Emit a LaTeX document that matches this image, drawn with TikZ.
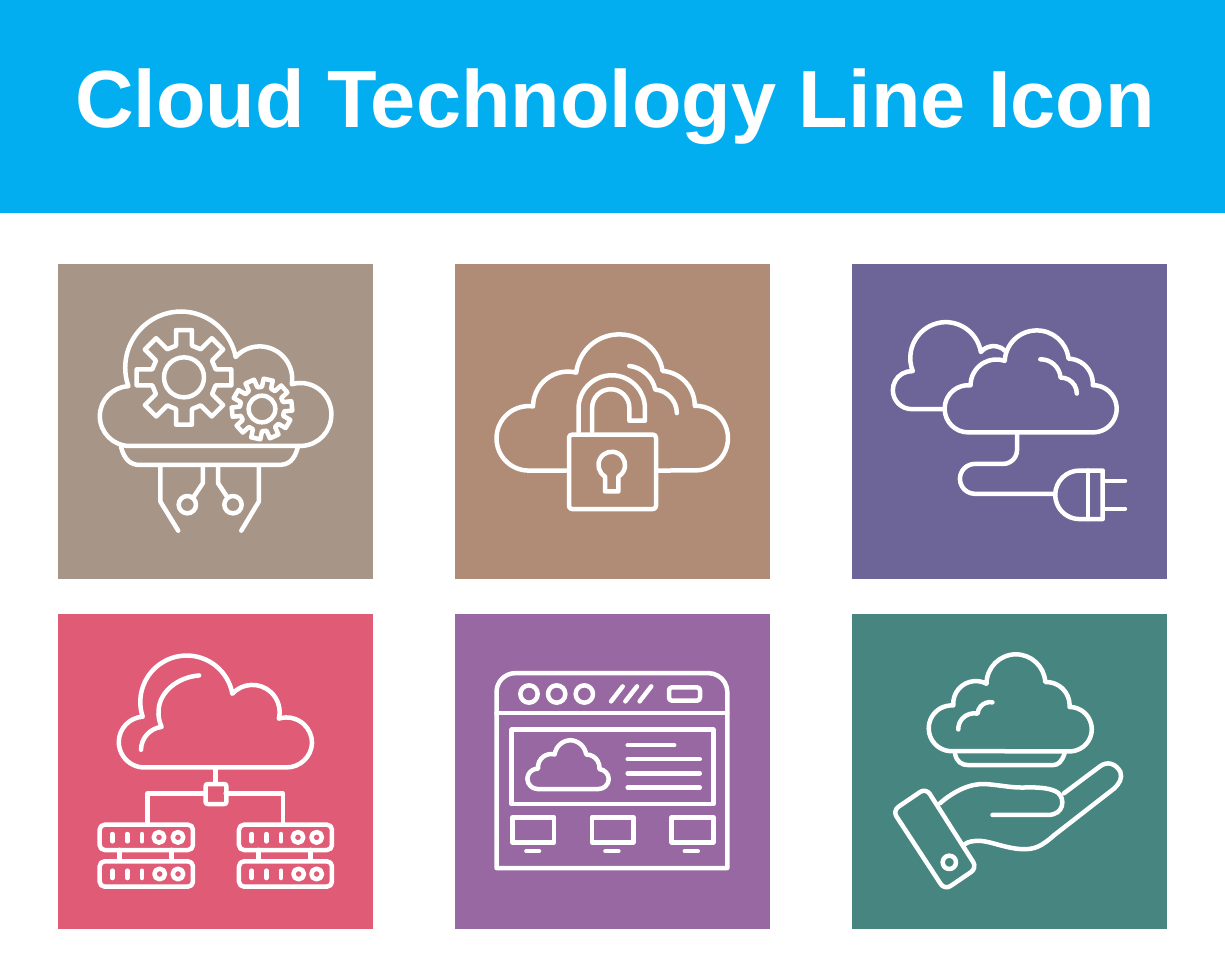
\documentclass[tikz,border=0pt]{standalone}
\usepackage{fontspec}
\setmainfont{Liberation Sans}
\usetikzlibrary{svg.path}
\definecolor{hdr}{HTML}{03AEF0}
\definecolor{pa}{HTML}{A79688}
\definecolor{pb}{HTML}{B08C77}
\definecolor{pc}{HTML}{6D6598}
\definecolor{pd}{HTML}{DF5B76}
\definecolor{pe}{HTML}{9768A1}
\definecolor{pf}{HTML}{478580}
\tikzset{
  ln/.style={draw=white,line width=4.5bp,line cap=round,line join=round},
  panelbox/.style={fill=#1,draw=none},
  iconat/.style={shift={#1},yscale=-1,scale=0.33333},
  rr/.style={rounded corners=#1}
}
\newcommand\gearicon[7]{%
  \begin{scope}[shift={(#1,#2)}]
    \pgfmathsetmacro\gofft{atan(#5/#4)}
    \pgfmathsetmacro\goffr{atan(#5/#3)}
    \pgfmathsetmacro\grt{veclen(#4,#5)}
    \pgfmathsetmacro\grr{veclen(#3,#5)}
    \pgfmathsetmacro\gstep{360/#6}
    \draw[ln] ({#7-\goffr}:\grr)
      \foreach \gk in {1,...,#6}{
        -- ({#7+(\gk-1)*\gstep-\gofft}:\grt)
        -- ({#7+(\gk-1)*\gstep+\gofft}:\grt)
        -- ({#7+(\gk-1)*\gstep+\goffr}:\grr)
        -- ({#7+\gk*\gstep-\goffr}:\grr)
      } -- cycle;
  \end{scope}}
\newcommand\serverrow[6]{% x0 x1 y pills/circles
  \draw[ln,rr=5bp] (#1,#3-38) rectangle (#2,#3+38);
  \foreach \px in {#4}{\draw[ln] (\px,#3-10) -- (\px,#3+12);}
  \foreach \px in {#5,#6}{\draw[ln] (\px,#3) circle[radius=16];}
}
\begin{document}
\begin{tikzpicture}[x=1bp,y=1bp]
\useasboundingbox (0,0) rectangle (1225,-980);
\fill[white] (0,0) rectangle (1225,-980);
\fill[hdr] (0,0) rectangle (1225,-213);
\node[text=white,anchor=base,inner sep=0pt,font=\fontsize{81.1bp}{90bp}\selectfont\bfseries] (title) at (615,-127) {Cloud Technology Line Icon};
\fill[panelbox=pa] (58,-264) rectangle (373,-579);
\fill[panelbox=pb] (455,-264) rectangle (770,-579);
\fill[panelbox=pc] (852,-264) rectangle (1167,-579);
\fill[panelbox=pd] (58,-614) rectangle (373,-929);
\fill[panelbox=pe] (455,-614) rectangle (770,-929);
\fill[panelbox=pf] (852,-614) rectangle (1167,-929);

% icon 1: cloud with gears
\begin{scope}[iconat={(58,-264)}]
\draw[ln] svg {M 215 548 A 90 90 0 0 1 126 458 A 90 90 0 0 1 212 368 A 169 169 0 0 1 372 143 A 169 169 0 0 1 535 280 A 98 98 0 0 1 704 362 A 93 93 0 0 1 823 455 A 93 93 0 0 1 735 548 Z};
\draw[ln] svg {M 190 552 C 200 590 220 605 245 605 L 665 605 C 695 605 712 590 722 552};
\draw[ln] svg {M 308 612 L 308 715 L 362 803};
\draw[ln] svg {M 605 612 L 605 715 L 552 803};
\draw[ln] svg {M 436 612 L 436 660 L 408 702};
\draw[ln] svg {M 482 612 L 482 660 L 510 702};
\draw[ln] (388,722) circle[radius=26];
\draw[ln] (525,722) circle[radius=26];
\gearicon{378}{340}{95}{142}{24}{8}{0}
\draw[ln] (378,340) circle[radius=60];
\gearicon{612}{435}{65}{90}{14}{10}{-78}
\draw[ln] (612,435) circle[radius=40];
\end{scope}

% icon 2: cloud with padlock
\begin{scope}[iconat={(455,-264)}]
\draw[ln] svg {M 335 622 L 220 622 A 97 97 0 0 1 125 525 A 97 97 0 0 1 235 428 A 105 105 0 0 1 365 328 A 130 130 0 0 1 497 212 A 130 130 0 0 1 625 322 A 105 105 0 0 1 722 428 A 97 97 0 0 1 822 525 A 97 97 0 0 1 725 622 L 610 622};
\draw[ln] svg {M 525 307 A 90 90 0 0 1 603 378 A 72 72 0 0 1 668 448};
\draw[ln,rr=3bp] (342,512) rectangle (603,735);
\draw[ln] svg {M 413 505 L 413 433 A 56 56 0 0 1 469 377 A 56 56 0 0 1 525 433 L 525 472 L 572 472 L 572 435 A 100 100 0 0 0 472 335 A 100 100 0 0 0 372 435 L 372 505};
\draw[ln] svg {M 452 640 A 40 40 0 1 1 492 640 L 492 685 L 452 685 Z};
\end{scope}

% icon 3: clouds with plug
\begin{scope}[iconat={(852,-264)}]
\draw[ln] svg {M 275 437 L 180 437 A 57 57 0 0 1 123 380 A 57 57 0 0 1 183 322 A 108 108 0 0 1 280 175 A 108 108 0 0 1 388 265 A 50 50 0 0 1 462 262};
\draw[ln] svg {M 350 507 A 71 71 0 0 1 279 436 A 71 71 0 0 1 357 365 A 78 78 0 0 1 460 292 A 96 96 0 0 1 555 200 A 96 96 0 0 1 652 285 A 75 75 0 0 1 725 365 A 71 71 0 0 1 797 436 A 71 71 0 0 1 725 507 Z};
\draw[ln] svg {M 567 287 A 60 60 0 0 1 628 342 A 48 48 0 0 1 677 390};
\draw[ln] svg {M 497 512 L 497 560 A 42 42 0 0 1 455 602 L 370 602 A 45 45 0 0 0 325 647 A 45 45 0 0 0 370 692 L 610 692};
\draw[ln] svg {M 755 622 L 685 622 A 73 73 0 0 0 612 695 A 73 73 0 0 0 685 768 L 755 768 Z};
\draw[ln] svg {M 710 622 L 710 768};
\draw[ln] svg {M 760 653 L 822 653};
\draw[ln] svg {M 760 737 L 822 737};
\end{scope}

% icon 4: cloud with servers
\begin{scope}[iconat={(58,-614)}]
\draw[ln] svg {M 265 462 A 77 77 0 0 1 183 386 A 77 77 0 0 1 255 310 A 140 140 0 0 1 385 125 A 140 140 0 0 1 525 240 A 82 82 0 0 1 665 315 A 77 77 0 0 1 765 388 A 77 77 0 0 1 688 462 Z};
\draw[ln] svg {M 425 185 C 360 190 305 235 303 290 C 301 305 305 325 312 340 A 70 70 0 0 0 250 408};
\draw[ln] svg {M 475 465 L 475 510};
\draw[ln,rr=2bp] (443,510) rectangle (505,570);
\draw[ln] svg {M 443 540 L 270 540 L 270 628};
\draw[ln] svg {M 505 540 L 677 540 L 677 628};
\serverrow{125}{405}{670}{163,208,252}{303}{360}
\serverrow{125}{405}{780}{163,208,252}{305}{360}
\serverrow{543}{822}{670}{581,625,669}{720}{776}
\serverrow{543}{822}{780}{581,625,669}{722}{776}
\draw[ln] svg {M 185 710 L 185 740};
\draw[ln] svg {M 342 710 L 342 740};
\draw[ln] svg {M 603 710 L 603 740};
\draw[ln] svg {M 760 710 L 760 740};
\end{scope}

% icon 5: browser window
\begin{scope}[iconat={(455,-614)}]
\draw[ln] svg {M 125 765 L 125 235 A 57 57 0 0 1 182 178 L 763 178 A 57 57 0 0 1 820 235 L 820 765 Z};
\draw[ln] svg {M 125 298 L 820 298};
\draw[ln] (222,240) circle[radius=26];
\draw[ln] (305,240) circle[radius=26];
\draw[ln] (388,240) circle[radius=26];
\draw[ln] svg {M 470 263 L 505 218};
\draw[ln] svg {M 513 263 L 548 218};
\draw[ln] svg {M 556 263 L 591 218};
\draw[ln,rr=3bp] (642,220) rectangle (735,260);
\draw[ln] (170,347) rectangle (775,570);
\draw[ln] svg {M 248 527 A 31 31 0 0 1 218 497 A 31 31 0 0 1 250 466 A 40 40 0 0 1 300 423 A 50 50 0 0 1 347 380 A 50 50 0 0 1 395 423 A 40 40 0 0 1 435 467 A 31 31 0 0 1 463 497 A 31 31 0 0 1 432 527 Z};
\draw[ln] svg {M 520 395 L 660 395};
\draw[ln] svg {M 520 437 L 737 437};
\draw[ln] svg {M 520 480 L 737 480};
\draw[ln] svg {M 520 523 L 737 523};
\draw[ln] (172,610) rectangle (297,685);
\draw[ln] (411,610) rectangle (535,685);
\draw[ln] (650,610) rectangle (775,685);
\draw[ln] svg {M 215 714 L 253 714};
\draw[ln] svg {M 453 714 L 492 714};
\draw[ln] svg {M 692 714 L 731 714};
\end{scope}

% icon 6: hand holding cloud
\begin{scope}[iconat={(852,-614)}]
\draw[ln] svg {M 295 413 A 69 69 0 0 1 231 345 A 69 69 0 0 1 305 275 A 68 68 0 0 1 405 210 A 89 89 0 0 1 493 122 A 89 89 0 0 1 582 205 A 70 70 0 0 1 655 280 A 67 67 0 0 1 722 347 A 67 67 0 0 1 650 413 Z};
\draw[ln] svg {M 423 266 A 38 38 0 0 0 378 300 A 48 48 0 0 0 320 348};
\draw[ln] svg {M 310 420 C 315 445 330 455 350 455 L 605 455 C 620 455 632 445 640 420};
\draw[ln,rr=7bp] (122,590) -- (222,522) -- (375,762) -- (278,828) -- cycle;
\draw[ln] (292,745) circle[radius=20];
\draw[ln] svg {M 265 570 C 310 530 360 510 400 512 C 450 515 480 525 530 522 C 570 522 600 525 620 538 C 642 555 640 605 590 605 L 423 605};
\draw[ln] svg {M 638 540 L 745 460 C 770 440 795 452 808 475 C 815 495 805 510 790 525 L 610 665 C 570 700 550 710 510 708 C 460 705 420 685 385 683 C 365 683 350 685 340 693};
\end{scope}
\end{tikzpicture}
\end{document}
